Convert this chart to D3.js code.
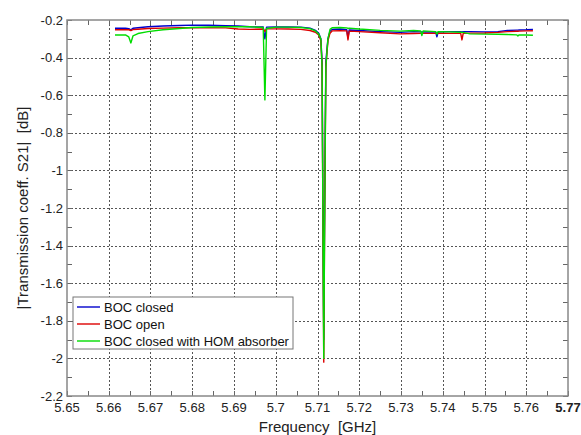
<!DOCTYPE html>
<html>
<head>
<meta charset="utf-8">
<script src="https://cdn.jsdelivr.net/npm/d3@7"></script>
<style>
  body { margin: 0; background: #fff; }
  text { font-family: "Liberation Sans", Arial, sans-serif; }
</style>
</head>
<body>
<svg id="chart" width="581" height="435"></svg>
<script>
// frequency points (GHz), shared by all three traces
const freq = [5.6615, 5.664, 5.6648, 5.6653, 5.6658, 5.667, 5.6694, 5.673, 5.677, 5.6799,
  5.684, 5.688, 5.691, 5.6938, 5.6970, 5.6974, 5.6978, 5.700, 5.703, 5.706,
  5.7082, 5.7095, 5.7103, 5.7108, 5.7111, 5.7113, 5.7115, 5.7117, 5.7120, 5.7125,
  5.7130, 5.7135, 5.7154, 5.7170, 5.7173, 5.7176, 5.720, 5.725, 5.7298, 5.733,
  5.7347, 5.7350, 5.7353, 5.7383, 5.7386, 5.7389, 5.7415, 5.7443, 5.7446, 5.7449,
  5.7465, 5.750, 5.7532, 5.7555, 5.7577, 5.7580, 5.7583, 5.7600, 5.7616];

const bocClosed = [-0.244, -0.243, -0.246, -0.252, -0.244, -0.241, -0.236, -0.232, -0.229, -0.227,
  -0.228, -0.230, -0.232, -0.236, -0.237, -0.30, -0.238, -0.237, -0.237, -0.238,
  -0.243, -0.255, -0.270, -0.30, -0.42, -1.2, -1.9, -1.2, -0.42, -0.30,
  -0.26, -0.250, -0.248, -0.252, -0.295, -0.253, -0.256, -0.262, -0.266, -0.262,
  -0.263, -0.264, -0.263, -0.264, -0.289, -0.264, -0.262, -0.262, -0.263, -0.262,
  -0.262, -0.263, -0.262, -0.256, -0.254, -0.254, -0.253, -0.252, -0.250];

const bocOpen = [-0.252, -0.251, -0.252, -0.256, -0.251, -0.249, -0.245, -0.243, -0.241, -0.241,
  -0.241, -0.242, -0.248, -0.250, -0.248, -0.26, -0.247, -0.247, -0.248, -0.250,
  -0.256, -0.265, -0.280, -0.31, -0.45, -1.3, -2.02, -1.3, -0.45, -0.31,
  -0.27, -0.258, -0.257, -0.258, -0.306, -0.259, -0.262, -0.268, -0.274, -0.272,
  -0.271, -0.271, -0.271, -0.271, -0.271, -0.271, -0.271, -0.271, -0.306, -0.271,
  -0.270, -0.269, -0.266, -0.262, -0.260, -0.260, -0.259, -0.258, -0.257];

const bocHom = [-0.280, -0.279, -0.290, -0.322, -0.285, -0.272, -0.262, -0.252, -0.245, -0.240,
  -0.237, -0.236, -0.235, -0.236, -0.240, -0.625, -0.245, -0.238, -0.238, -0.240,
  -0.246, -0.258, -0.275, -0.30, -0.45, -1.3, -2.0, -1.3, -0.45, -0.30,
  -0.250, -0.241, -0.240, -0.242, -0.245, -0.243, -0.248, -0.255, -0.259, -0.256,
  -0.258, -0.283, -0.258, -0.262, -0.275, -0.262, -0.263, -0.265, -0.266, -0.266,
  -0.274, -0.275, -0.276, -0.277, -0.279, -0.285, -0.279, -0.280, -0.281];

const seriesNames = ["BOC closed", "BOC open", "BOC closed with HOM absorber"];
const seriesColors = ["#0000cc", "#dd0000", "#00dd00"];
const xTicks = [5.65, 5.66, 5.67, 5.68, 5.69, 5.7, 5.71, 5.72, 5.73, 5.74, 5.75, 5.76, 5.77];
const yTicks = [-0.2, -0.4, -0.6, -0.8, -1, -1.2, -1.4, -1.6, -1.8, -2, -2.2];

const svg = d3.select("#chart");
const pL = 67, pR = 568, pT = 20, pB = 396;

const x = d3.scaleLinear().domain([5.65, 5.77]).range([pL, pR]);
const y = d3.scaleLinear().domain([-2.2, -0.2]).range([pB, pT]);

const fmt = v => String(+v.toFixed(3)).replace("\u2212", "-");

// grid (dotted)
const grid = svg.append("g");
grid.selectAll("line.gx")
  .data(xTicks.slice(1, -1))
  .enter().append("line")
  .attr("x1", d => Math.round(x(d)) + 0.5).attr("x2", d => Math.round(x(d)) + 0.5)
  .attr("y1", pT).attr("y2", pB)
  .attr("stroke", "#555").attr("stroke-dasharray", "2,2");
grid.selectAll("line.gy")
  .data(yTicks.slice(1, -1))
  .enter().append("line")
  .attr("y1", d => Math.round(y(d)) + 0.5).attr("y2", d => Math.round(y(d)) + 0.5)
  .attr("x1", pL).attr("x2", pR)
  .attr("stroke", "#555").attr("stroke-dasharray", "2,2");

// minor tick positions
const xMinor = d3.range(0, 25).map(i => 5.65 + i * 0.005);
const yMinor = d3.range(0, 21).map(i => -2.2 + i * 0.1);

// ticks pointing inside on all four sides
const tk = svg.append("g").attr("stroke", "#666");
xMinor.forEach(v => {
  const px = Math.round(x(v)) + 0.5;
  tk.append("line").attr("x1", px).attr("x2", px).attr("y1", pB).attr("y2", pB - 5);
  tk.append("line").attr("x1", px).attr("x2", px).attr("y1", pT).attr("y2", pT + 5);
});
yMinor.forEach(v => {
  const py = Math.round(y(v)) + 0.5;
  tk.append("line").attr("y1", py).attr("y2", py).attr("x1", pL).attr("x2", pL + 5);
  tk.append("line").attr("y1", py).attr("y2", py).attr("x1", pR).attr("x2", pR - 5);
});

// data lines
const line = d3.line().x(d => x(d[0])).y(d => y(d[1]));
[bocClosed, bocOpen, bocHom].forEach((vals, i) => {
  svg.append("path")
    .datum(freq.map((f, j) => [f, vals[j]]))
    .attr("fill", "none")
    .attr("stroke", seriesColors[i])
    .attr("stroke-width", 1.4)
    .attr("stroke-linejoin", "round")
    .attr("d", line);
});

// frame
svg.append("rect")
  .attr("x", pL).attr("y", pT)
  .attr("width", pR - pL).attr("height", pB - pT)
  .attr("fill", "none").attr("stroke", "#888").attr("stroke-width", 1.5);

// tick labels
svg.append("g").selectAll("text")
  .data(xTicks).enter().append("text")
  .attr("x", d => x(d)).attr("y", pB + 16)
  .attr("text-anchor", "middle")
  .attr("font-size", 13)
  .attr("font-weight", (d, i) => i === xTicks.length - 1 ? "bold" : "normal")
  .attr("fill", "#222")
  .text(d => fmt(d));
svg.append("g").selectAll("text")
  .data(yTicks).enter().append("text")
  .attr("x", pL - 4).attr("y", d => y(d) + 4.5)
  .attr("text-anchor", "end")
  .attr("font-size", 13)
  .attr("fill", "#222")
  .text(d => fmt(d));

// axis titles
svg.append("text")
  .attr("x", (pL + pR) / 2).attr("y", 432)
  .attr("text-anchor", "middle").attr("font-size", 15).attr("fill", "#222")
  .attr("xml:space", "preserve")
  .text("Frequency  [GHz]");
svg.append("text")
  .attr("transform", `translate(28,${(pT + pB) / 2}) rotate(-90)`)
  .attr("text-anchor", "middle").attr("font-size", 15).attr("fill", "#222")
  .attr("xml:space", "preserve")
  .text("|Transmission coeff. S21|  [dB]");

// legend
const lg = svg.append("g").attr("transform", "translate(73,297)");
lg.append("rect").attr("width", 220).attr("height", 52)
  .attr("fill", "#fff").attr("stroke", "#777");
seriesNames.forEach((name, i) => {
  const yy = 10 + i * 17;
  lg.append("line").attr("x1", 4).attr("x2", 27).attr("y1", yy).attr("y2", yy)
    .attr("stroke", seriesColors[i]).attr("stroke-width", 1.4);
  lg.append("text").attr("x", 31).attr("y", yy + 5)
    .attr("font-size", 13).attr("fill", "#111").text(name);
});
</script>
</body>
</html>
